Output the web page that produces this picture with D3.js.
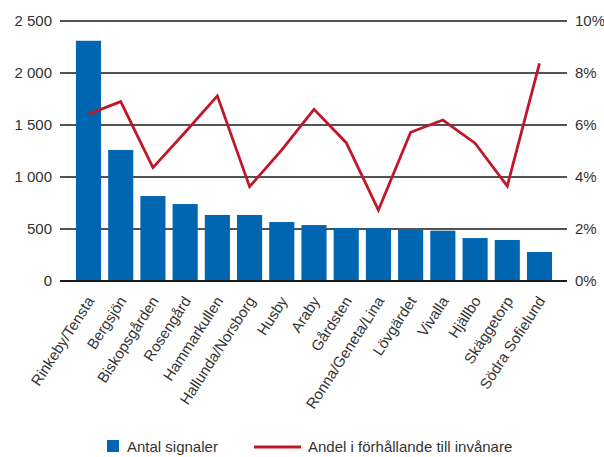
<!DOCTYPE html>
<html><head><meta charset="utf-8">
<script src="https://cdn.jsdelivr.net/npm/d3@7"></script>
<style>
body{margin:0;background:#fff;}
svg{display:block;font-family:"Liberation Sans",Arial,sans-serif;}
</style></head>
<body>
<script>
const categories = ["Rinkeby/Tensta","Bergsjön","Biskopsgården","Rosengård","Hammarkullen","Hallunda/Norsborg","Husby","Araby","Gårdsten","Ronna/Geneta/Lina","Lövgärdet","Vivalla","Hjällbo","Skäggetorp","Södra Sofielund"];
const signals = [2310,1260,817,740,635,635,567,538,510,508,495,484,413,394,279];
const share = [6.42,6.90,4.36,5.72,7.12,3.63,5.04,6.60,5.32,2.73,5.72,6.19,5.30,3.65,8.37];
const leftTicks = [0,500,1000,1500,2000,2500];
const rightTicks = [0,2,4,6,8,10];
const seriesNames = ["Antal signaler","Andel i förhållande till invånare"];

const W=604,H=457;
const svg=d3.select("body").append("svg").attr("width",W).attr("height",H);
const x0=60,x1=567,yTop=21,yBot=281;
const x=d3.scaleBand().domain(categories).range([72.4,555.6]).paddingInner(0.22).paddingOuter(0.11);
const y=d3.scaleLinear().domain([0,2500]).range([yBot,yTop]);
const y2=d3.scaleLinear().domain([0,10]).range([yBot,yTop]);
const fmt=v=>v>=1000?d3.format(",")(v).replace(","," "):String(v);

// gridlines
svg.append("g").selectAll("line").data(leftTicks).join("line")
  .attr("x1",x0).attr("x2",x1).attr("y1",d=>y(d)).attr("y2",d=>y(d))
  .attr("stroke","#1a1a1a").attr("stroke-width",d=>d===0?2:1.3);

// bars
svg.append("g").selectAll("rect").data(categories).join("rect")
  .attr("x",d=>x(d)).attr("width",x.bandwidth())
  .attr("y",(d,i)=>y(signals[i])).attr("height",(d,i)=>yBot-y(signals[i]))
  .attr("fill","#0066b1");
// axis line over bars
svg.append("line").attr("x1",x0).attr("x2",x1).attr("y1",yBot).attr("y2",yBot).attr("stroke","#1a1a1a").attr("stroke-width",2);

// line
const line=d3.line().x((d,i)=>x(categories[i])+x.bandwidth()/2).y(d=>y2(d));
svg.append("path").datum(share).attr("d",line).attr("fill","none")
  .attr("stroke","#c0172b").attr("stroke-width",2.8).attr("stroke-linejoin","miter");

// left axis labels
svg.append("g").selectAll("text").data(leftTicks).join("text")
  .attr("x",52).attr("y",d=>y(d)).attr("dy","0.35em").attr("text-anchor","end")
  .attr("font-size",15).attr("fill","#333").text(fmt);
// right axis labels
svg.append("g").selectAll("text").data(rightTicks).join("text")
  .attr("x",575).attr("y",d=>y2(d)).attr("dy","0.35em").attr("text-anchor","start")
  .attr("font-size",15).attr("fill","#333").text(d=>d+"%");

// category labels
svg.append("g").selectAll("text").data(categories).join("text")
  .attr("transform",d=>`translate(${x(d)+x.bandwidth()/2+2},${yBot+17}) rotate(-57)`)
  .attr("text-anchor","end").attr("dy","0.35em")
  .attr("font-size",15).attr("fill","#333").text(d=>d);

// legend
const lg=svg.append("g");
lg.append("rect").attr("x",107).attr("y",440).attr("width",12).attr("height",12).attr("fill","#0066b1");
lg.append("text").attr("x",127).attr("y",452).attr("font-size",15).attr("fill","#333").text(seriesNames[0]);
lg.append("line").attr("x1",254).attr("x2",301).attr("y1",447).attr("y2",447).attr("stroke","#c0172b").attr("stroke-width",2.8);
lg.append("text").attr("x",308).attr("y",452).attr("font-size",15).attr("fill","#333").text(seriesNames[1]);
</script>
</body></html>
